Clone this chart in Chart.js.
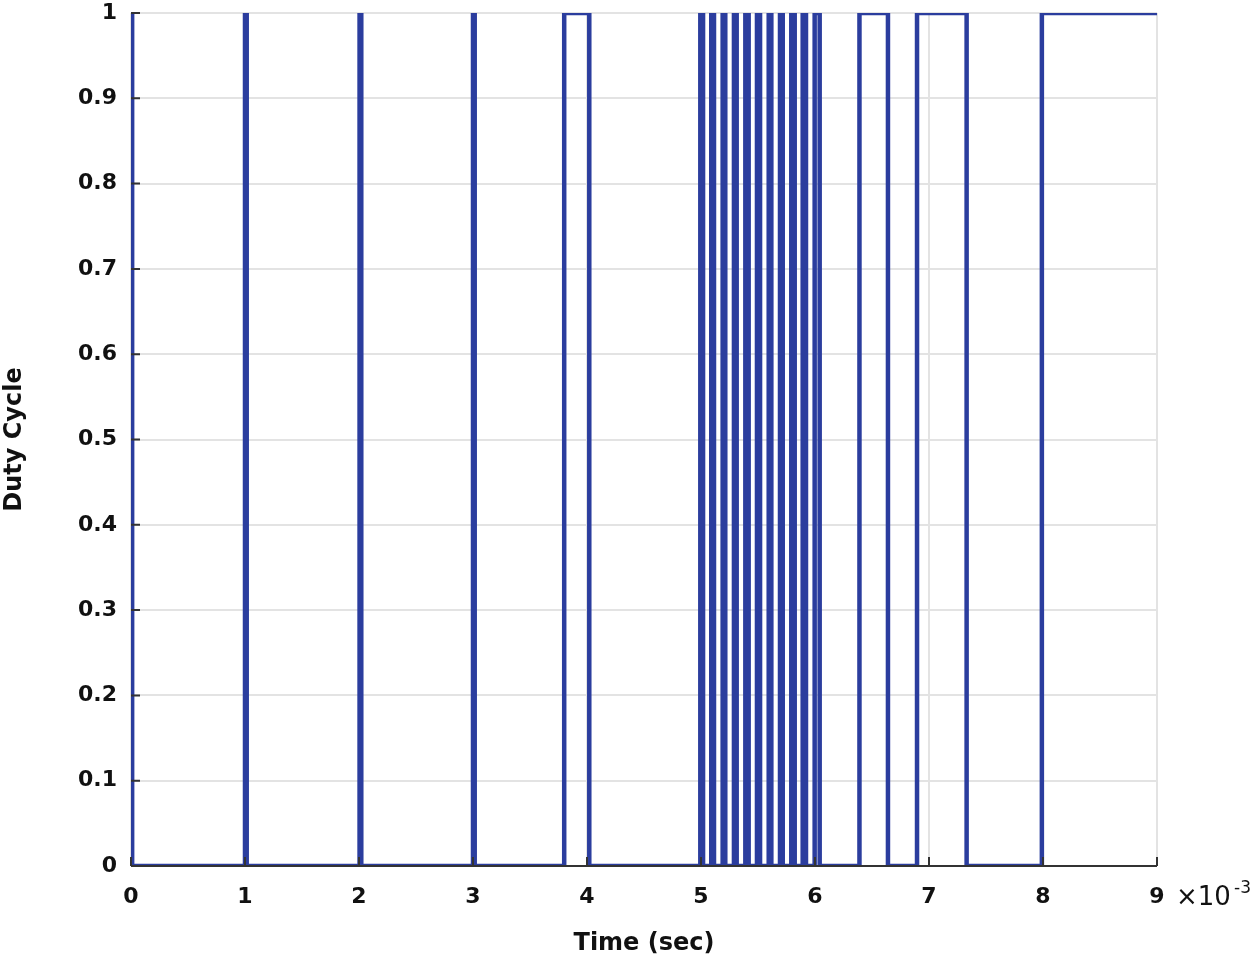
<!DOCTYPE html>
<html>
<head>
<meta charset="utf-8">
<script src="https://cdn.jsdelivr.net/npm/chart.js@4.4.0/dist/chart.umd.min.js"></script>
<style>
  html, body { margin: 0; padding: 0; background: #fff; }
  #wrap { width: 1255px; height: 958px; }
</style>
</head>
<body>
<div id="wrap"><canvas id="dutyChart"></canvas></div>
<script>
// switching instants (x10^-3 s) and the duty level from that instant on
const edgeTimes = [
  0, 0.01, 1.0, 1.015, 2.005, 2.02, 3.0, 3.015, 3.80, 4.02,
  4.994, 5.018, 5.090, 5.114, 5.190, 5.213, 5.289, 5.313, 5.389, 5.418,
  5.491, 5.518, 5.594, 5.617, 5.693, 5.717, 5.792, 5.822, 5.892, 5.921,
  5.997, 6.041, 6.39, 6.64, 6.895, 7.33, 7.99, 9
];
const dutyLevels = [
  1, 0, 1, 0, 1, 0, 1, 0, 1, 0,
  1, 0, 1, 0, 1, 0, 1, 0, 1, 0,
  1, 0, 1, 0, 1, 0, 1, 0, 1, 0,
  1, 0, 1, 0, 1, 0, 1, 1
];
const xTicks = [0, 1, 2, 3, 4, 5, 6, 7, 8, 9];
const yTicks = [0, 0.1, 0.2, 0.3, 0.4, 0.5, 0.6, 0.7, 0.8, 0.9, 1];

const points = edgeTimes.map((t, i) => ({ x: t, y: dutyLevels[i] }));
const FONT = '"DejaVu Sans", Arial, sans-serif';

// matlab style inward ticks, axis line and the exponent label
const axisDecor = {
  id: 'axisDecor',
  afterDatasetsDraw(chart) {
    const ctx = chart.ctx;
    const xs = chart.scales.x, ys = chart.scales.y;
    const a = chart.chartArea;
    ctx.save();
    ctx.strokeStyle = '#333';
    ctx.lineWidth = 2;
    ctx.beginPath();
    ctx.moveTo(a.left, a.bottom);
    ctx.lineTo(a.right, a.bottom);
    xTicks.forEach(v => {
      const px = xs.getPixelForValue(v);
      ctx.moveTo(px, a.bottom);
      ctx.lineTo(px, a.bottom - 9);
    });
    yTicks.forEach(v => {
      const py = ys.getPixelForValue(v);
      ctx.moveTo(a.left, py);
      ctx.lineTo(a.left + 9, py);
    });
    ctx.stroke();
    // x10^-3
    ctx.fillStyle = '#111';
    ctx.textBaseline = 'alphabetic';
    ctx.font = '26px ' + FONT;
    ctx.fillText('\u00d710', 1176, 905);
    ctx.font = '17px ' + FONT;
    ctx.fillText('-3', 1234, 893);
    ctx.restore();
  }
};

new Chart(document.getElementById('dutyChart'), {
  type: 'line',
  data: {
    datasets: [{
      data: points,
      stepped: true,
      borderColor: '#2b3d9e',
      borderWidth: 4.5,
      pointRadius: 0,
      fill: false
    }]
  },
  options: {
    responsive: true,
    maintainAspectRatio: false,
    animation: false,
    layout: { padding: { top: 13, right: 98, left: 0, bottom: 0 } },
    plugins: { legend: { display: false }, tooltip: { enabled: false } },
    scales: {
      x: {
        type: 'linear',
        min: 0, max: 9,
        afterBuildTicks: s => { s.ticks = xTicks.map(v => ({ value: v })); },
        afterFit: s => { s.height = 92; s.paddingLeft = 0; s.paddingRight = 0; },
        grid: { color: '#e3e3e3', lineWidth: 2, drawTicks: false },
        border: { display: false },
        ticks: {
          color: '#111', padding: 18, maxRotation: 0,
          font: { family: FONT, size: 22, weight: 'bold' }
        },
        title: {
          display: true, text: 'Time (sec)', color: '#111',
          padding: { top: 6, bottom: 0 },
          font: { family: FONT, size: 24, weight: 'bold' }
        }
      },
      y: {
        min: 0, max: 1,
        afterBuildTicks: s => { s.ticks = yTicks.map(v => ({ value: v })); },
        afterFit: s => { s.width = 131; s.paddingTop = 0; s.paddingBottom = 0; },
        grid: { color: '#e3e3e3', lineWidth: 2, drawTicks: false },
        border: { display: false },
        ticks: {
          color: '#111', padding: 14,
          callback: v => String(Math.round(v * 10) / 10),
          font: { family: FONT, size: 22, weight: 'bold' }
        },
        title: {
          display: true, text: 'Duty Cycle', color: '#111',
          padding: { top: 0, bottom: 0 },
          font: { family: FONT, size: 24, weight: 'bold' }
        }
      }
    }
  },
  plugins: [axisDecor]
});
</script>
</body>
</html>
